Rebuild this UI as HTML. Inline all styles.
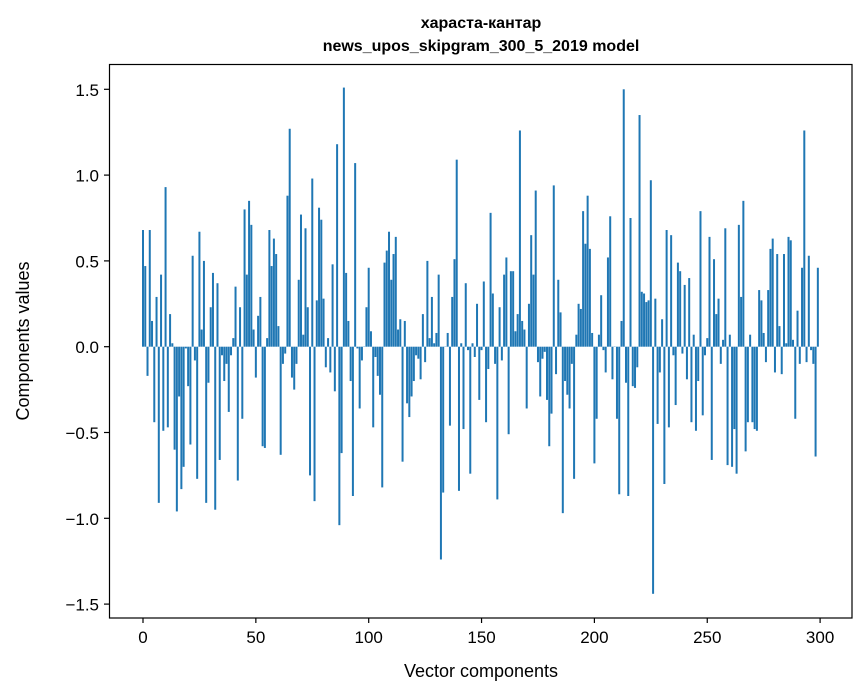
<!DOCTYPE html>
<html><head><meta charset="utf-8"><style>
body{margin:0;background:#fff;}
svg{display:block;font-family:"Liberation Sans","DejaVu Sans",sans-serif;}
</style></head><body>
<svg id="s" width="867" height="696" xmlns="http://www.w3.org/2000/svg">
<rect width="867" height="696" fill="#fff"/>
<g id="bars" fill="#1f77b4"></g>
<rect x="109.5" y="64.5" width="742.5" height="553.5" fill="none" stroke="#000" stroke-width="1.2"/>
<g id="ticks" stroke="#000" stroke-width="1.2"></g>
<g id="labels" font-size="17" fill="#000"></g>
<text x="481" y="28" text-anchor="middle" font-size="16" font-weight="bold">хараста-кантар</text>
<text x="481" y="51" text-anchor="middle" font-size="16" font-weight="bold">news_upos_skipgram_300_5_2019 model</text>
<text x="481" y="677" text-anchor="middle" font-size="18">Vector components</text>
<text transform="translate(29,341) rotate(-90)" text-anchor="middle" font-size="18">Components values</text>
</svg>
<script>
var v=[0.68,0.47,-0.17,0.68,0.15,-0.44,0.29,-0.91,0.42,-0.49,0.93,-0.47,0.19,0.02,-0.60,-0.96,-0.29,-0.83,-0.70,-0.01,-0.23,-0.57,0.53,-0.08,-0.77,0.67,0.10,0.50,-0.91,-0.21,0.23,0.43,-0.95,0.37,-0.66,-0.05,-0.20,-0.10,-0.38,-0.05,0.05,0.35,-0.78,0.23,-0.42,0.80,0.42,0.85,0.71,0.10,-0.18,0.18,0.29,-0.58,-0.59,0.05,0.68,0.47,0.63,0.54,0.12,-0.63,-0.10,-0.04,0.88,1.27,-0.18,-0.25,-0.10,0.39,0.77,0.07,0.69,0.23,-0.75,0.98,
-0.90,0.27,0.81,0.74,0.28,-0.12,0.05,-0.15,0.48,-0.26,1.18,-1.04,-0.62,1.51,0.43,0.15,-0.20,-0.87,1.07,-0.01,-0.36,-0.08,0.00,0.23,0.46,0.09,-0.47,-0.06,-0.17,-0.28,-0.82,0.49,0.56,0.67,0.39,0.54,0.64,0.10,0.16,-0.67,0.15,-0.33,-0.41,-0.29,-0.20,-0.05,-0.07,-0.19,0.19,-0.09,0.50,0.05,0.29,0.02,0.08,0.42,-1.24,-0.85,0.00,0.08,-0.46,0.29,0.51,1.09,-0.84,0.02,-0.48,0.37,-0.02,-0.74,0.02,-0.06,0.25,-0.31,-0.02,
0.38,-0.44,-0.13,0.78,0.31,-0.10,-0.89,0.23,-0.08,0.42,0.52,-0.51,0.44,0.44,0.09,0.19,1.26,0.15,0.10,-0.36,0.25,0.65,0.42,0.91,-0.09,-0.29,-0.07,-0.03,-0.31,-0.58,-0.39,0.94,-0.16,0.39,0.20,-0.97,-0.20,-0.28,-0.36,-0.10,-0.77,0.07,0.25,0.22,0.79,0.60,0.88,0.57,0.08,-0.68,-0.42,0.07,0.30,-0.02,-0.15,0.52,0.76,-0.19,0.00,-0.42,-0.86,0.15,1.50,-0.21,-0.87,0.75,-0.23,-0.24,-0.12,1.35,0.32,0.31,0.26,0.27,0.97,-1.44,
0.28,-0.45,-0.15,0.16,-0.80,0.68,-0.47,0.65,-0.05,-0.34,0.49,0.44,-0.04,0.36,-0.19,0.40,-0.44,0.07,-0.49,-0.20,0.79,-0.40,-0.05,0.05,0.64,-0.66,0.51,0.19,0.28,-0.10,0.04,0.69,-0.69,0.07,-0.70,-0.48,-0.74,0.71,0.29,0.85,-0.61,-0.44,0.07,-0.44,-0.48,-0.49,0.33,0.27,0.08,-0.09,0.33,0.57,0.63,-0.15,0.54,0.12,-0.16,0.54,0.02,0.64,0.62,0.04,-0.42,0.21,-0.10,0.46,1.26,-0.09,0.53,-0.02,-0.10,-0.64,0.46];
var NS="http://www.w3.org/2000/svg";
function X(i){return 143+2.257*i;}
var Z=346.7,K=171.6;
var g=document.getElementById('bars');
for(var i=0;i<v.length;i++){var r=document.createElementNS(NS,'rect');var h=v[i]*K;
r.setAttribute('x',X(i)-1.0);r.setAttribute('width',2.0);
r.setAttribute('y',h>0?Z-h:Z);r.setAttribute('height',Math.max(Math.abs(h),0.3));g.appendChild(r);}
var t=document.getElementById('ticks'),l=document.getElementById('labels');
function line(x1,y1,x2,y2){var e=document.createElementNS(NS,'line');e.setAttribute('x1',x1);e.setAttribute('y1',y1);e.setAttribute('x2',x2);e.setAttribute('y2',y2);t.appendChild(e);}
function txt(x,y,s,a){var e=document.createElementNS(NS,'text');e.setAttribute('x',x);e.setAttribute('y',y);e.setAttribute('text-anchor',a);e.textContent=s;l.appendChild(e);}
for(var k=0;k<=300;k+=50){var x=X(k);line(x,618,x,623);txt(x,643,String(k),'middle');}
var ys=[1.5,1.0,0.5,0.0,-0.5,-1.0,-1.5];
for(var j=0;j<ys.length;j++){var y=Z-ys[j]*K;line(104,y,109.5,y);txt(99,y+6.5,(ys[j]<0?'\u2212':'')+Math.abs(ys[j]).toFixed(1),'end');}
</script>
</body></html>
